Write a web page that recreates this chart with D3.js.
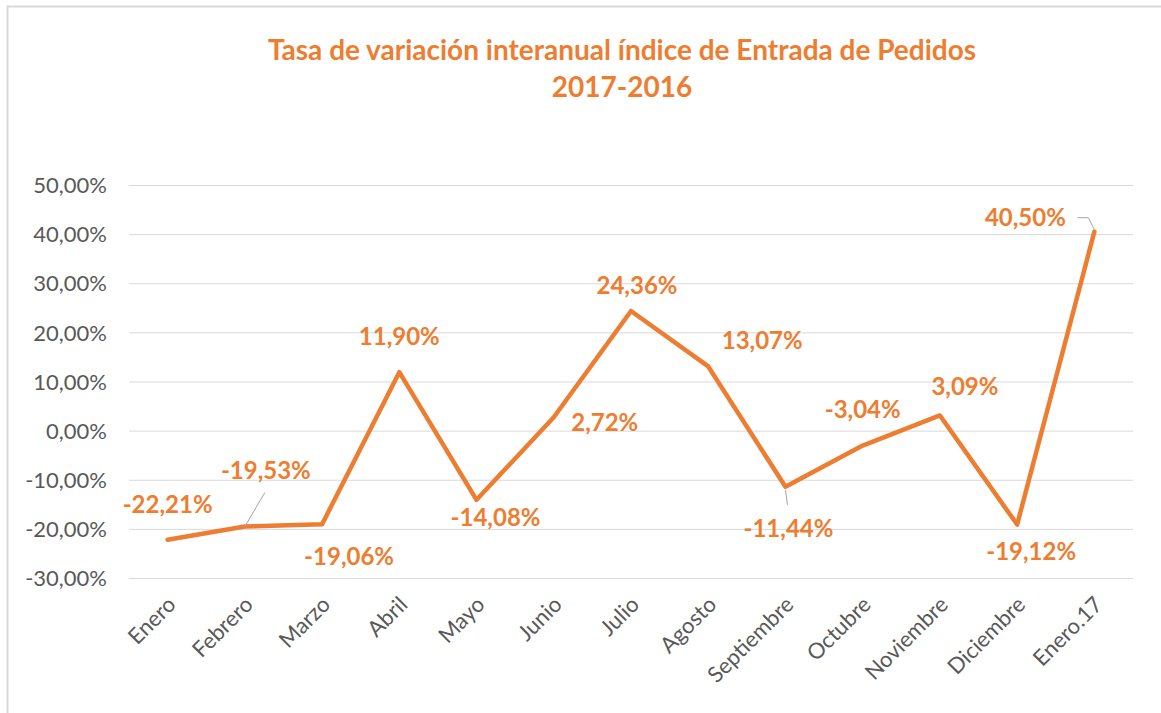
<!DOCTYPE html>
<html lang="es">
<head>
<meta charset="UTF-8">
<title>Tasa de variación interanual</title>
<style>
  body { margin: 0; background: #fff; }
  text { font-family: Lato, "Open Sans", sans-serif; }
</style>
</head>
<body>
<div id="chart"></div>
<script src="https://cdn.jsdelivr.net/npm/d3@7"></script>
<script>
// datos
var months = ['Enero', 'Febrero', 'Marzo', 'Abril', 'Mayo', 'Junio', 'Julio', 'Agosto',
  'Septiembre', 'Octubre', 'Noviembre', 'Diciembre', 'Enero.17'];
var rates = [-22.21, -19.53, -19.06, 11.90, -14.08, 2.72, 24.36, 13.07, -11.44, -3.04, 3.09, -19.12, 40.50];
var yTicks = [-30, -20, -10, 0, 10, 20, 30, 40, 50];

// posicion de las etiquetas respecto al punto (dx, dy)
var labelOffsets = [[0, -35], [21, -56], [27, 32], [0, -36], [19, 18], [51, 5], [6, -25],
  [54, -26], [3, 42], [0, -36], [25, -29], [14, 27], [-69, -14]];

var width = 1161, height = 713;
var orange = '#ED7D31';

var svg = d3.select('#chart').append('svg')
  .attr('width', width)
  .attr('height', height);

// borde del grafico
svg.append('rect')
  .attr('x', 7.5).attr('y', 6.5)
  .attr('width', 1200).attr('height', 800)
  .attr('fill', 'none')
  .attr('stroke', '#d9d9d9')
  .attr('stroke-width', 2);

// titulo
var title = svg.append('text')
  .attr('x', 622)
  .attr('text-anchor', 'middle')
  .attr('fill', orange)
  .style('font-weight', 700)
  .style('font-size', '28px');
title.append('tspan').attr('x', 622).attr('y', 60).text('Tasa de variación interanual índice de Entrada de Pedidos');
title.append('tspan').attr('x', 622).attr('y', 97).text('2017-2016');

var x = d3.scalePoint()
  .domain(months)
  .range([129, 1133])
  .padding(0.5);

var y = d3.scaleLinear()
  .domain([-30, 50])
  .range([578, 185]);

var fmt = function (v) { return v.toFixed(2).replace('.', ',') + '%'; };

// lineas de cuadricula + eje y
var yAxis = d3.axisLeft(y)
  .tickValues(yTicks)
  .tickSize(-(1133 - 129))
  .tickPadding(22)
  .tickFormat(fmt);

var gy = svg.append('g')
  .attr('transform', 'translate(129,0)')
  .call(yAxis);
gy.select('.domain').remove();
gy.selectAll('.tick line').attr('stroke', '#d9d9d9').attr('stroke-width', 1);
gy.selectAll('.tick text')
  .attr('fill', '#595959')
  .style('font-size', '22px')
  .attr('dy', '0.35em');

// eje x
var xAxis = d3.axisBottom(x).tickSize(0).tickPadding(0);
var gx = svg.append('g')
  .attr('transform', 'translate(0,578)')
  .call(xAxis);
gx.select('.domain').remove();
gx.selectAll('.tick text')
  .attr('fill', '#595959')
  .style('font-size', '22px')
  .attr('text-anchor', 'end')
  .attr('dy', 0)
  .attr('transform', 'translate(9,28) rotate(-45)');

// linea
var line = d3.line()
  .x(function (d, i) { return x(months[i]); })
  .y(function (d) { return y(d); });

svg.append('path')
  .datum(rates)
  .attr('d', line)
  .attr('fill', 'none')
  .attr('stroke', orange)
  .attr('stroke-width', 4.5)
  .attr('stroke-linejoin', 'round')
  .attr('stroke-linecap', 'round');

// lineas guia de etiquetas
var leaderColor = '#a6a6a6';
function px(i) { return x(months[i]); }
function py(i) { return y(rates[i]); }
svg.append('path')
  .attr('d', 'M' + px(1) + ',' + py(1) + 'L' + (px(1) + 20) + ',' + (py(1) - 34))
  .attr('stroke', leaderColor).attr('fill', 'none');
svg.append('path')
  .attr('d', 'M' + px(8) + ',' + (py(8) + 3) + 'L' + (px(8) + 2) + ',' + (py(8) + 18))
  .attr('stroke', leaderColor).attr('fill', 'none');
svg.append('path')
  .attr('d', 'M' + px(12) + ',' + (py(12) - 2) + 'L' + (px(12) - 6) + ',' + (py(12) - 14) + 'L' + (px(12) - 17) + ',' + (py(12) - 14))
  .attr('stroke', leaderColor).attr('fill', 'none');

// etiquetas de datos
svg.append('g').selectAll('text')
  .data(rates)
  .enter().append('text')
  .attr('x', function (d, i) { return x(months[i]) + labelOffsets[i][0]; })
  .attr('y', function (d, i) { return y(d) + labelOffsets[i][1]; })
  .attr('dy', '0.35em')
  .attr('text-anchor', 'middle')
  .attr('fill', orange)
  .style('font-weight', 700)
  .style('font-size', '24px')
  .text(fmt);
</script>
</body>
</html>
